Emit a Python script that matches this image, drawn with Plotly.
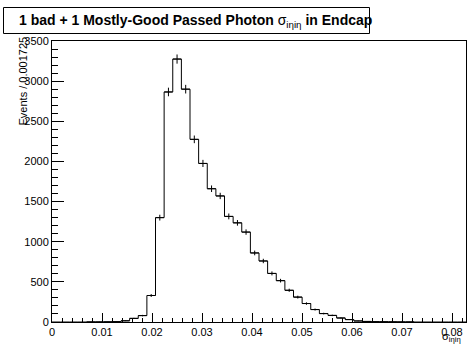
import numpy as np
import plotly.graph_objects as go

# ---- data ----
bin_width = 0.001725
n_bins = 48
counts = [0, 0, 0, 0, 1, 1, 2, 4, 15, 45, 80, 330,
          1300, 2865, 3275, 2900, 2275, 1975, 1660, 1570, 1315, 1235, 1120, 860,
          760, 605, 515, 395, 310, 230, 155, 105, 82, 50, 30, 13,
          7, 4, 3, 2, 1, 1, 0, 0, 0, 0, 0, 0]
x_ticks = [0, 0.01, 0.02, 0.03, 0.04, 0.05, 0.06, 0.07, 0.08]
x_tick_text = ["0", "0.01", "0.02", "0.03", "0.04", "0.05", "0.06", "0.07", "0.08"]
y_ticks = [0, 500, 1000, 1500, 2000, 2500, 3000, 3500]
title_text = "<b>1 bad + 1 Mostly-Good Passed Photon </b>σ<sub>iηiη</sub><b> in Endcap</b>"
y_title = "Events / 0.001725"
x_title = "σ<sub>iηiη</sub>"

edges = np.arange(n_bins + 1) * bin_width
centers = (edges[:-1] + edges[1:]) / 2
counts = np.array(counts, dtype=float)

FONT = "Liberation Sans, Arial, Helvetica, sans-serif"

W, H = 467, 345
ml, mr, mt, mb = 52, 1, 41, 23
pw = W - ml - mr
ph = H - mt - mb

def px2x(p):
    return (p - ml) / pw

def py2y(p):
    return (H - mb - p) / ph

fig = go.Figure()

# step outline
step_x = np.concatenate([[edges[0]], edges])
step_y = np.concatenate([[0], counts, [0]])
fig.add_trace(go.Scatter(
    x=list(step_x), y=list(step_y[:len(step_x)]),
    mode="lines", line=dict(color="black", width=1, shape="hv"),
    hoverinfo="skip", showlegend=False))

# error crosses
nz = counts > 0
fig.add_trace(go.Scatter(
    x=list(centers[nz]), y=list(counts[nz]),
    mode="markers",
    marker=dict(symbol="line-ew", size=6, color="black",
                line=dict(color="black", width=1)),
    error_y=dict(type="data", array=list(np.sqrt(counts[nz])),
                 color="black", thickness=1, width=0),
    showlegend=False))

fig.update_layout(
    width=W, height=H,
    margin=dict(l=ml, r=mr, t=mt, b=mb, pad=0),
    paper_bgcolor="white", plot_bgcolor="white",
    font=dict(family=FONT, size=11, color="black"),
    showlegend=False,
    xaxis=dict(range=[0, n_bins * bin_width], tickvals=x_ticks, ticktext=x_tick_text,
               ticks="inside", ticklen=9, tickwidth=1, tickcolor="black",
               minor=dict(dtick=0.002, ticks="inside", ticklen=4, tickcolor="black", tick0=0),
               showline=True, linecolor="black", linewidth=1, mirror=True,
               showgrid=False, zeroline=False, tickfont=dict(size=11)),
    yaxis=dict(range=[0, 3500], tickvals=y_ticks,
               ticks="inside", ticklen=12, tickwidth=1, tickcolor="black",
               minor=dict(dtick=100, ticks="inside", ticklen=6, tickcolor="black", tick0=0),
               showline=True, linecolor="black", linewidth=1, mirror=True,
               showgrid=False, zeroline=False, tickfont=dict(size=11)),
)

# title box
fig.add_shape(type="rect", xref="paper", yref="paper",
              x0=px2x(3.5), x1=px2x(369.5), y0=py2y(33.5), y1=py2y(7.5),
              line=dict(color="black", width=1), fillcolor="white", layer="above")
fig.add_annotation(text=title_text, xref="paper", yref="paper",
                   x=px2x(17), y=py2y(21), xanchor="left", yanchor="middle",
                   showarrow=False, font=dict(family=FONT, size=14, color="black"))

# y title
fig.add_annotation(text=y_title, xref="paper", yref="paper",
                   x=px2x(22), y=py2y(35), xanchor="center", yanchor="top",
                   textangle=-90, showarrow=False,
                   font=dict(family=FONT, size=11, color="black"))

# x title
fig.add_annotation(text=x_title, xref="paper", yref="paper",
                   x=px2x(463), y=py2y(337), xanchor="right", yanchor="middle",
                   showarrow=False, font=dict(family=FONT, size=11, color="black"))

fig.write_html("out.html")
